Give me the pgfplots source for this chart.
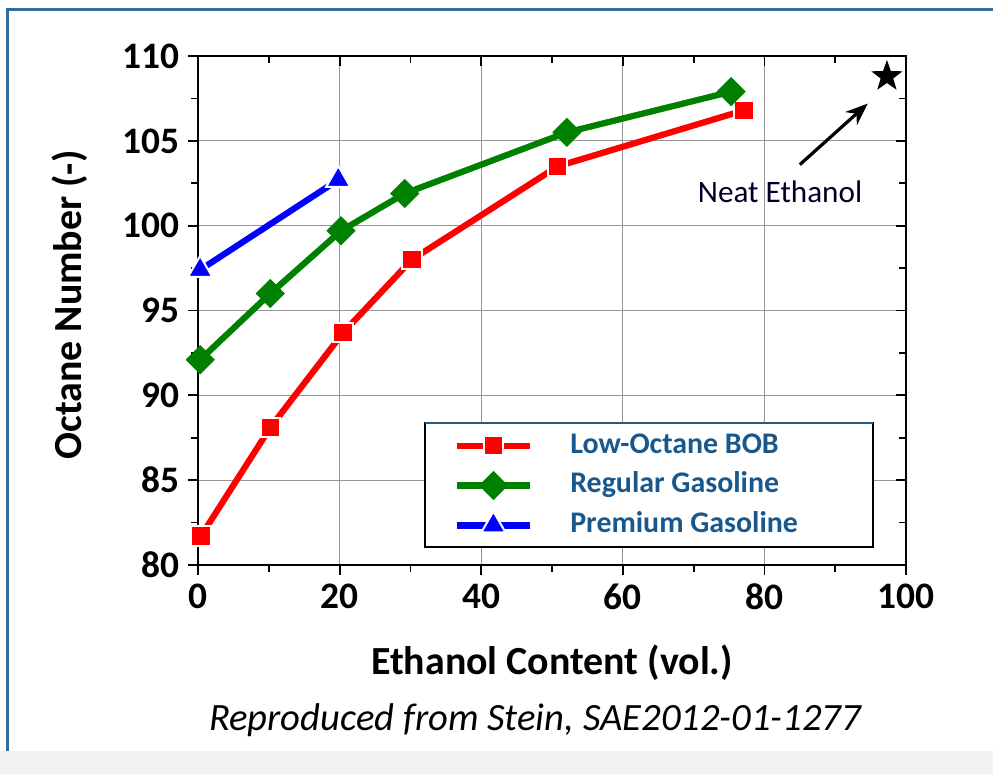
\documentclass[border=0pt]{standalone}
\usepackage{fontspec}
\setmainfont{Carlito}
\usepackage{pgfplots}
\pgfplotsset{compat=1.18}
\usetikzlibrary{arrows.meta}

\definecolor{framebl}{RGB}{46,110,160}
\definecolor{legtxt}{RGB}{24,88,140}
\definecolor{gridgr}{RGB}{150,150,150}
\definecolor{plred}{RGB}{255,0,0}
\definecolor{plgreen}{RGB}{0,128,0}
\definecolor{plblue}{RGB}{0,0,255}

% filled five-pointed star
\pgfdeclareplotmark{fstar}{%
  \pgfpathmoveto{\pgfqpointpolar{90}{\pgfplotmarksize}}%
  \pgfpathlineto{\pgfqpointpolar{126}{0.4\pgfplotmarksize}}%
  \pgfpathlineto{\pgfqpointpolar{162}{\pgfplotmarksize}}%
  \pgfpathlineto{\pgfqpointpolar{198}{0.4\pgfplotmarksize}}%
  \pgfpathlineto{\pgfqpointpolar{234}{\pgfplotmarksize}}%
  \pgfpathlineto{\pgfqpointpolar{270}{0.4\pgfplotmarksize}}%
  \pgfpathlineto{\pgfqpointpolar{306}{\pgfplotmarksize}}%
  \pgfpathlineto{\pgfqpointpolar{342}{0.4\pgfplotmarksize}}%
  \pgfpathlineto{\pgfqpointpolar{18}{\pgfplotmarksize}}%
  \pgfpathlineto{\pgfqpointpolar{54}{0.4\pgfplotmarksize}}%
  \pgfpathclose
  \pgfusepathqfillstroke}

\pgfplotsset{
  series/.style={line width=2.5pt, mark options={solid, draw=white, line width=0.8pt}},
}

\begin{document}
\begin{tikzpicture}
\useasboundingbox (-2.792cm,-2.947cm) rectangle (11.208cm,7.966cm);
\fill[black!5] (-2.792cm,-2.947cm) rectangle (11.208cm,-2.62cm);
\draw[framebl, line width=1.2pt] (-2.693cm,-2.62cm) -- (-2.693cm,7.839cm) -- (11.4cm,7.839cm);

\begin{axis}[
  at={(0,0)}, anchor=south west,
  scale only axis, width=9.982cm, height=7.176cm,
  xmin=0, xmax=100, ymin=80, ymax=110,
  xtick={0,20,...,100}, ytick={80,85,...,110},
  minor x tick num=1, minor y tick num=1,
  xtick pos=left, ytick pos=left,
  tick align=outside,
  major tick length=4pt, minor tick length=2.8pt,
  grid=major, grid style={gridgr, line width=0.5pt},
  axis line style={line width=0.7pt},
  tick style={black, line width=0.7pt},
  tick label style={font=\fontsize{15}{18}\selectfont\bfseries},
  /pgf/number format/assume math mode=true,
  clip=false,
  legend style={at={(rel axis cs:0.360,0.263)}, anchor=north west,
    draw=none, fill=none, inner sep=0pt, text=legtxt,
    font=\fontsize{12}{14}\selectfont\bfseries,
    nodes={inner sep=0pt, text height=8.6pt, text depth=2.6pt},
    row sep=4.8pt, column sep=0.52cm},
  legend cell align=left,
  legend image code/.code={\draw[mark repeat=2,mark phase=2,#1] plot coordinates {(0cm,0cm) (0.52cm,0cm) (1.04cm,0cm)};},
]
\draw[black, line width=0.6pt, fill=white] (rel axis cs:0.3206,0.035) rectangle (rel axis cs:0.953,0.279);
\draw[framebl!80!black, line width=1pt] (rel axis cs:0.3206,0.279) -- (rel axis cs:0.953,0.279);

\addplot[series, plred, mark=square*, mark size=3.9pt] coordinates {
(0.4,81.7) (10.2,88.1) (20.5,93.7) (30.2,98.0) (50.8,103.5) (77.1,106.8)
};
\addlegendentry{Low-Octane BOB}
\addplot[series, plgreen, mark=square*, mark size=2.9pt, mark options={rotate=45}] coordinates {
(0.3,92.1) (10.2,96.0) (20.2,99.7) (29.2,101.9) (52.1,105.5) (75.3,107.9)
};
\addlegendentry{Regular Gasoline}
\addplot[series, plblue, mark=triangle*, mark size=5.6pt] coordinates {
(0.3,97.4) (19.8,102.7)
};
\addlegendentry{Premium Gasoline}

\addplot[only marks, black, mark=fstar, mark size=6pt, forget plot] coordinates {(97.3,108.8)};

\draw[-{Stealth[length=9pt,width=7pt]}, line width=1.3pt] (axis cs:85,103.6) -- (axis cs:94.6,107.2);
\node[font=\fontsize{12.5}{15}\selectfont, text=black!85!blue] at (axis cs:82.2,102.0) {Neat Ethanol};

\node[rotate=90, font=\fontsize{16}{19}\selectfont\bfseries] at (rel axis cs:-0.181,0.511) {Octane Number (-)};
\node[font=\fontsize{16}{19}\selectfont\bfseries] at (rel axis cs:0.5,-0.1925) {Ethanol Content (vol.)};
\node[font=\fontsize{15.5}{18}\selectfont\itshape] at (rel axis cs:0.476,-0.305) {Reproduced from Stein, SAE2012-01-1277};
\end{axis}

\begin{axis}[
  at={(0,0)}, anchor=south west,
  scale only axis, width=9.982cm, height=7.176cm,
  xmin=0, xmax=100, ymin=80, ymax=110,
  xtick={0,20,...,100}, ytick={80,85,...,110},
  minor x tick num=1, minor y tick num=1,
  axis x line*=top, axis y line*=right,
  tick align=inside,
  major tick length=4pt, minor tick length=2.8pt,
  axis line style={line width=0.7pt, -},
  tick style={black, line width=0.7pt},
  xticklabels={}, yticklabels={},
]
\end{axis}
\end{tikzpicture}
\end{document}
